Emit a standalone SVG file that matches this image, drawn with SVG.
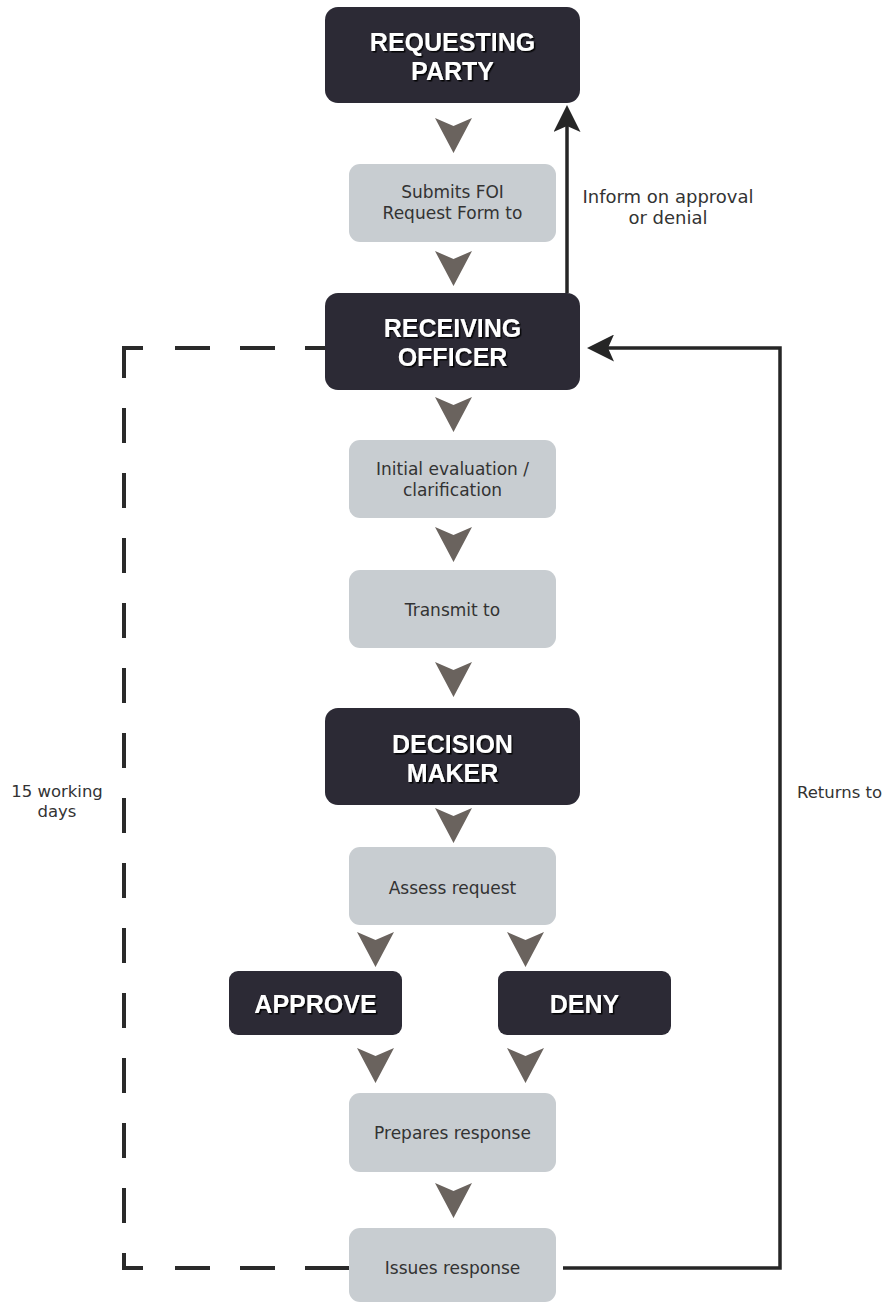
<svg xmlns="http://www.w3.org/2000/svg" width="887" height="1303" viewBox="0 0 887 1303">
<defs>
<style>
.dark{fill:#2c2a35}
.light{fill:#c8cdd1}
.chev{fill:#6a635e}
.h{font-family:"Liberation Sans",Arial,sans-serif;font-weight:bold;font-size:25px;fill:#ffffff;text-anchor:middle;filter:url(#sh)}
.t{font-family:"DejaVu Sans","Liberation Sans",sans-serif;font-size:17px;fill:#333333;text-anchor:middle}
.s{font-size:16.5px}
.l{font-size:18px}
.conn{fill:none;stroke:#262626;stroke-width:3.5}
.dash{fill:none;stroke:#2a2a2a;stroke-width:4}
</style>
<filter id="sh" x="-10%" y="-20%" width="130%" height="150%">
<feDropShadow dx="1.5" dy="1.5" stdDeviation="0.7" flood-color="#000000" flood-opacity="0.9"/>
</filter>
<marker id="ah" viewBox="0 0 27 27" markerWidth="27" markerHeight="27" markerUnits="userSpaceOnUse" refX="18" refY="13.5" orient="auto">
<path d="M27 13.5 L0 0 L6 13.5 L0 27 Z" fill="#262626"/>
</marker>
<path id="cv" d="M0 0 L18.5 8 L37 0 L18.5 35 Z"/>
</defs>
<rect width="887" height="1303" fill="#ffffff"/>

<g id="connectors">
<path class="conn" d="M567 293 V114" marker-end="url(#ah)"/>
<path class="conn" d="M563 1268 H780 V348 H596" marker-end="url(#ah)"/>
<path class="dash" d="M305 348 H325 M240 348 H275 M175 348 H210 M143 348 H124 V378 M124 408 V443 M124 473 V508 M124 538 V573 M124 603 V638 M124 668 V703 M124 733 V768 M124 798 V833 M124 863 V898 M124 928 V963 M124 993 V1028 M124 1058 V1093 M124 1123 V1158 M124 1188 V1223 M124 1253 V1268 H143 M175 1268 H210 M240 1268 H275 M305 1268 H349"/>
<g class="chev">
<use href="#cv" x="435" y="118"/>
<use href="#cv" x="435" y="251"/>
<use href="#cv" x="435" y="397"/>
<use href="#cv" x="435" y="527"/>
<use href="#cv" x="435" y="662"/>
<use href="#cv" x="435" y="808"/>
<use href="#cv" x="357" y="932"/>
<use href="#cv" x="507" y="932"/>
<use href="#cv" x="357" y="1048"/>
<use href="#cv" x="507" y="1048"/>
<use href="#cv" x="435" y="1183"/>
</g>
</g>

<g id="requesting-party">
<rect class="dark" x="325" y="7" width="255" height="96" rx="13"/>
<text class="h" x="452.5" y="51">REQUESTING</text>
<text class="h" x="452.5" y="80">PARTY</text>
</g>
<g id="submits">
<rect class="light" x="349" y="164" width="207" height="78" rx="11"/>
<text class="t" x="452.5" y="198">Submits FOI</text>
<text class="t" x="452.5" y="219">Request Form to</text>
</g>
<g id="receiving-officer">
<rect class="dark" x="325" y="293" width="255" height="97" rx="13"/>
<text class="h" x="452.5" y="337">RECEIVING</text>
<text class="h" x="452.5" y="366">OFFICER</text>
</g>
<g id="initial-evaluation">
<rect class="light" x="349" y="440" width="207" height="78" rx="11"/>
<text class="t" x="452.5" y="475">Initial evaluation /</text>
<text class="t" x="452.5" y="496">clarification</text>
</g>
<g id="transmit">
<rect class="light" x="349" y="570" width="207" height="78" rx="11"/>
<text class="t" x="452.5" y="616">Transmit to</text>
</g>
<g id="decision-maker">
<rect class="dark" x="325" y="708" width="255" height="97" rx="13"/>
<text class="h" x="452.5" y="753">DECISION</text>
<text class="h" x="452.5" y="782">MAKER</text>
</g>
<g id="assess">
<rect class="light" x="349" y="847" width="207" height="78" rx="11"/>
<text class="t" x="452.5" y="894">Assess request</text>
</g>
<g id="approve">
<rect class="dark" x="229" y="971" width="173" height="64" rx="9"/>
<text class="h" x="315.5" y="1013">APPROVE</text>
</g>
<g id="deny">
<rect class="dark" x="498" y="971" width="173" height="64" rx="9"/>
<text class="h" x="584.5" y="1013">DENY</text>
</g>
<g id="prepares">
<rect class="light" x="349" y="1093" width="207" height="79" rx="11"/>
<text class="t" x="452.5" y="1139">Prepares response</text>
</g>
<g id="issues">
<rect class="light" x="349" y="1228" width="207" height="74" rx="11"/>
<text class="t" x="452.5" y="1274">Issues response</text>
</g>

<g id="labels">
<text class="t l" x="668" y="203">Inform on approval</text>
<text class="t l" x="668" y="224">or denial</text>
<text class="t s" x="57" y="797">15 working</text>
<text class="t s" x="57" y="817">days</text>
<text class="t s" x="797" y="798" style="text-anchor:start">Returns to</text>
</g>
</svg>
